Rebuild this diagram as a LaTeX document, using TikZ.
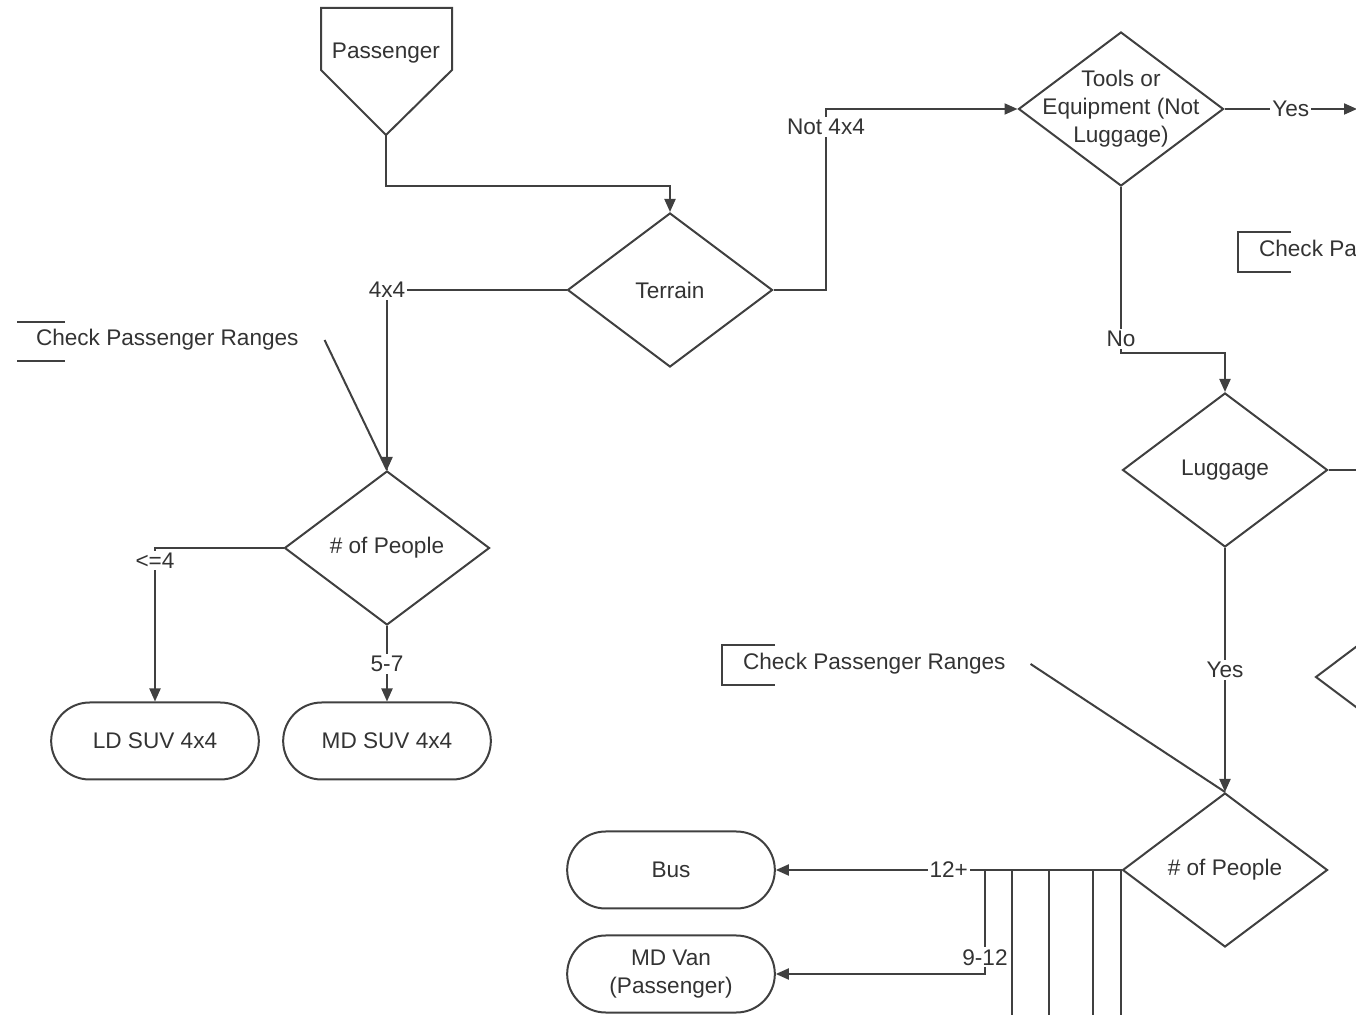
\documentclass[tikz,border=0pt]{standalone}
\usepackage{fontspec}
\setmainfont{Liberation Sans}
\usepackage{tikz}
\usetikzlibrary{positioning,shapes.geometric,shapes.misc,arrows.meta,calc}

\tikzset{
  decision/.style={diamond, draw, minimum width=102.5pt, minimum height=77pt, inner sep=0pt, align=center},
  terminal/.style={rounded rectangle, draw, minimum width=110.5pt, minimum height=38.5pt, align=center},
  lbl/.style={fill=white, inner sep=1pt},
  note/.style={anchor=west, inner sep=0pt}
}

\begin{document}
\begin{tikzpicture}[x=0.5pt,y=-0.5pt,line width=1pt,color=black!75,text=black!80,
  font=\fontsize{11.3}{14}\selectfont,>={Triangle[length=6.5pt,width=5.5pt]}]
\useasboundingbox (0,0) rectangle (1356,1015);
\clip (0,0) rectangle (1356,1015);

% off-page source
\node (pass) at (386,53) {Passenger};
\draw (386,135) coordinate (passtip) -- (452,70) -- (452,8) -- (321,8) -- (321,70) -- cycle;

% decisions
\node[decision] (terr) at (670,290) {Terrain};
\node[decision,label={[align=center]center:Tools or\\Equipment (Not\\Luggage)}] (tools) at (1121,109) {};
\node[decision] (lug) at (1225,470) {Luggage};
\node[decision] (num1) at (387,548) {\# of People};
\node[decision] (num2) at (1225,870) {\# of People};
\node[decision] (next) at (1418,677) {};

% end points
\node[terminal] (ldsuv) at (155,741) {LD SUV 4x4};
\node[terminal] (mdsuv) at (387,741) {MD SUV 4x4};
\node[terminal] (bus) at (671,870) {Bus};
\node[terminal] (mdvan) at (671,974) {MD Van\\(Passenger)};

% annotations
\node[note] (note1) at (35,340) {Check Passenger Ranges};
\node[note] (note2) at (742,664) {Check Passenger Ranges};
\node[note] (note3) at (1258,251) {Check Passenger Ranges};
\draw (65,322) -- (17,322);
\draw (17,361) -- (65,361);
\foreach \bx/\by in {722/665,1238/252}
  \draw (\bx+53,\by-20) -| (\bx,\by+20) -- (\bx+53,\by+20);
\draw ($(note1.east)+(25,0)$) -- (num1.north);
\draw ($(note2.east)+(24,0)$) -- (num2.north);

% flow
\coordinate (notc) at (826,109);
\coordinate (tap) at (985,870);
\draw[->] (passtip) -- ++(0,51) -| (terr.north);
\draw[->] (terr.west) -| node[lbl] {4x4} (num1.north);
\draw[->] (terr.east) -| node[lbl,pos=0.95] {Not 4x4} (notc) -- (tools.west);
\draw[->] (tools.east) -- node[lbl] {Yes} (1357,109);
\draw[->] (tools.south) |- node[lbl,yshift=7pt] {No} ($(lug.north)+(0,-39)$) -- (lug.north);
\draw (lug.east) -- (1360,470);
\draw[->] (lug.south) -- node[lbl] {Yes} (num2.north);
\draw[->] (num1.west) -| node[lbl,pos=0.54] {<=4} (ldsuv.north);
\draw[->] (num1.south) -- node[lbl] {5-7} (mdsuv.north);

\foreach \vx in {1012,1049,1093,1121}
  \draw (\vx,870) -- (\vx,1030);
\draw[->] (num2.west) -- node[lbl] {12+} (bus.east);
\draw[->] (tap) |- node[lbl,pos=0.42] {9-12} (mdvan.east);
\end{tikzpicture}
\end{document}
